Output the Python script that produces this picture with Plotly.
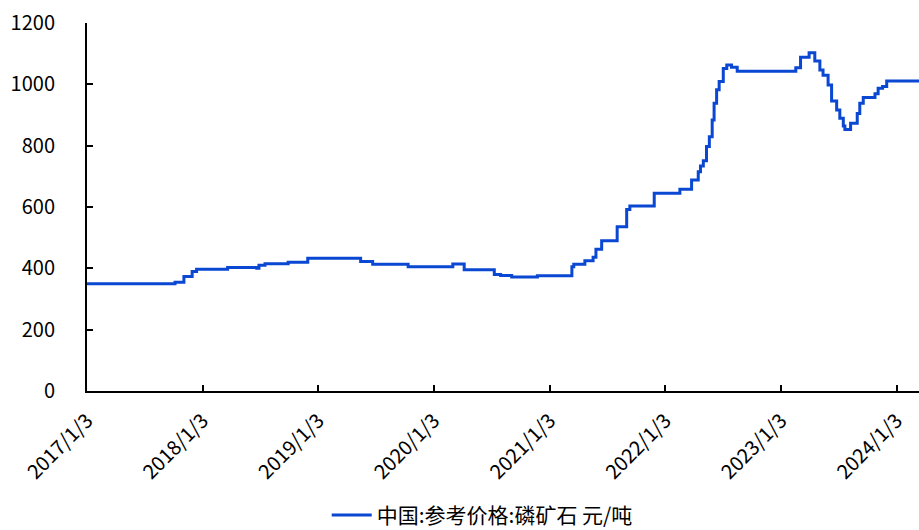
import plotly.graph_objects as go

# Step change dates and reference price (元/吨)
dates = [
    "2017-01-03", "2017-10-08", "2017-11-05", "2017-12-01", "2017-12-15",
    "2018-03-23", "2018-06-23", "2018-06-30", "2018-07-19", "2018-09-30",
    "2018-12-01", "2019-05-17", "2019-06-24", "2019-10-14", "2020-03-03",
    "2020-04-08", "2020-07-12", "2020-08-01", "2020-09-05", "2020-11-25",
    "2021-03-14", "2021-03-20", "2021-04-24", "2021-05-20", "2021-05-29",
    "2021-06-16", "2021-08-04", "2021-09-03", "2021-09-13", "2021-11-29",
    "2022-02-18", "2022-03-27", "2022-04-17", "2022-04-24", "2022-05-03",
    "2022-05-13", "2022-05-22", "2022-05-31", "2022-06-06", "2022-06-14",
    "2022-06-22", "2022-07-05", "2022-07-16", "2022-07-31", "2022-08-18",
    "2023-02-19", "2023-03-06", "2023-04-02", "2023-04-20", "2023-05-06",
    "2023-05-16", "2023-06-01", "2023-06-12", "2023-06-28", "2023-07-08",
    "2023-07-19", "2023-07-24", "2023-08-11", "2023-09-01", "2023-09-09",
    "2023-09-20", "2023-10-27", "2023-11-06", "2023-11-20", "2023-12-03",
    "2024-03-14",
]
prices = [
    350, 355, 373, 390, 397,
    403, 400, 410, 415, 420,
    433, 422, 413, 405, 414,
    395, 380, 377, 372, 376,
    405, 413, 425, 436, 462,
    490, 536, 592, 603, 645,
    658, 688, 715, 734, 751,
    797, 829, 884, 938, 982,
    1009, 1052, 1063, 1056, 1043,
    1054, 1088, 1103, 1076, 1047,
    1030, 998, 946, 916, 889,
    864, 853, 873, 905, 938,
    957, 969, 987, 993, 1011,
    1011,
]

tick_dates = ["2017-01-03", "2018-01-03", "2019-01-03", "2020-01-03",
              "2021-01-03", "2022-01-03", "2023-01-03", "2024-01-03"]
tick_labels = ["2017/1/3", "2018/1/3", "2019/1/3", "2020/1/3",
               "2021/1/3", "2022/1/3", "2023/1/3", "2024/1/3"]
y_ticks = [0, 200, 400, 600, 800, 1000, 1200]

series_name = "中国:参考价格:磷矿石 元/吨"
font_family = "Noto Sans CJK SC, Noto Sans, sans-serif"

fig = go.Figure()
fig.add_trace(go.Scatter(
    x=dates, y=prices, mode="lines", name=series_name,
    line=dict(color="#0A47D2", width=3, shape="hv"),
))

fig.update_layout(
    width=919, height=530,
    margin=dict(l=87, r=0, t=23, b=139, autoexpand=False),
    paper_bgcolor="white", plot_bgcolor="white",
    font=dict(family=font_family, size=19, color="#000000"),
    showlegend=True,
    legend=dict(
        orientation="h", x=0.475, xanchor="center", y=-0.338, yanchor="middle",
        font=dict(size=21, family=font_family), itemwidth=40,
        bgcolor="rgba(0,0,0,0)",
    ),
    xaxis=dict(
        type="date", range=["2017-01-03", "2024-03-14"],
        tickmode="array", tickvals=tick_dates, ticktext=tick_labels,
        tickangle=-45, ticks="inside", ticklen=6, tickwidth=1.5, tickcolor="#000",
        showline=True, linecolor="#000", linewidth=2,
        showgrid=False, zeroline=False, automargin=False,
        tickfont=dict(size=20), ticklabelstandoff=8,
    ),
    yaxis=dict(
        range=[0, 1200], tickmode="array", tickvals=y_ticks,
        ticks="inside", ticklen=6, tickwidth=1.5, tickcolor="#000",
        showline=True, linecolor="#000", linewidth=2,
        showgrid=False, zeroline=False, automargin=False,
        tickfont=dict(size=20), ticklabelstandoff=26,
    ),
)

fig.write_html("out.html")
